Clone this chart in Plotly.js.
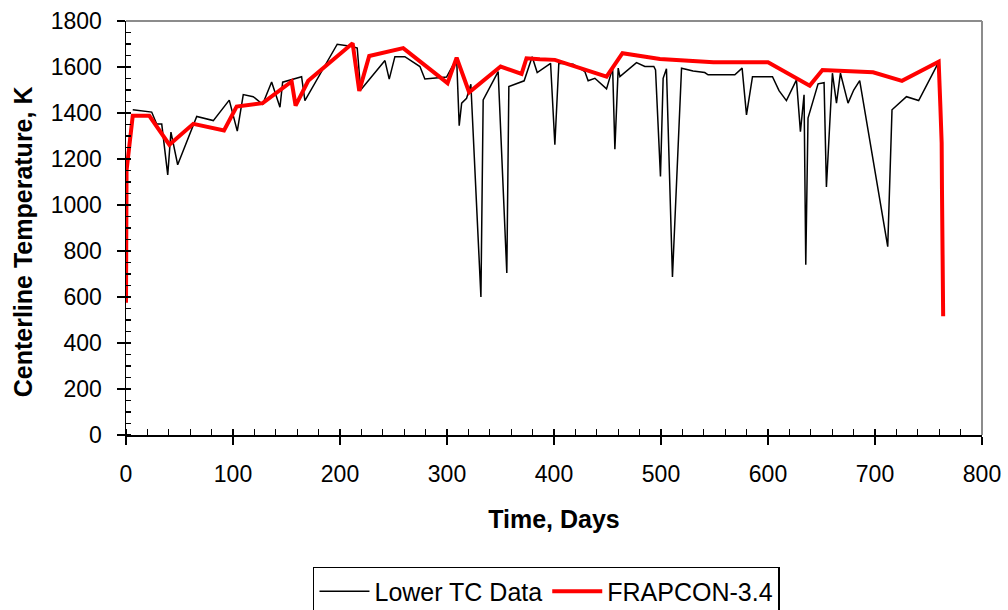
<!DOCTYPE html>
<html>
<head>
<meta charset="utf-8">
<script src="https://cdn.plot.ly/plotly-3.0.1.min.js"></script>
<style>html,body{margin:0;padding:0;background:#fff;}#chart{width:1008px;height:610px;}</style>
</head>
<body>
<div id="chart"></div>
<script>
// Lower TC Data (measured)
const lowerDays = [6.3,24.0,28.7,33.4,39.0,42.0,48.3,66.1,81.6,96.5,104.0,109.6,118.9,127.7,136.1,143.9,146.4,164.1,167.2,197.4,211.4,216.1,219.3,242.0,246.0,251.3,260.6,274.7,279.3,299.6,309.0,311.4,313.7,318.3,322.3,331.7,333.8,347.8,355.9,357.8,372.1,379.6,384.3,396.8,400.8,404.5,417.9,428.8,431.9,438.2,449.1,454.8,456.9,460.0,461.6,477.1,484.9,493.3,494.9,499.5,502.0,505.1,510.7,519.2,530.0,537.8,540.9,544.0,569.0,575.8,579.9,585.5,604.2,610.3,617.2,626.6,630.3,633.7,635.3,637.4,646.8,652.4,654.6,660.2,664.0,667.7,674.8,680.1,685.7,711.9,715.9,729.4,740.8,758.9];
const lowerTemps = [1414,1404,1352,1352,1131,1317,1175,1385,1367,1456,1321,1480,1471,1438,1535,1425,1534,1558,1454,1699,1689,1682,1500,1628,1547,1645,1645,1602,1548,1556,1638,1345,1443,1464,1525,600,1457,1580,704,1515,1540,1645,1576,1616,1262,1616,1612,1580,1540,1551,1505,1595,1243,1595,1558,1619,1602,1602,1587,1124,1551,1592,687,1595,1583,1580,1576,1566,1566,1595,1392,1558,1558,1497,1454,1544,1319,1479,740,1378,1527,1532,1078,1573,1443,1573,1443,1500,1541,819,1414,1471,1454,1616];

// FRAPCON-3.4 (calculated)
const frapDays = [0,0.5,6.3,21.8,40.5,62.9,91.6,103.4,127.7,154.8,158.5,170.3,211.8,218.0,227.3,259.1,300.5,309.0,320.7,350.1,369.7,374.3,386.8,400.8,449.1,464.0,499,549,600,639.0,650.9,698.2,725.2,759.5,761.1,762.3,762.6,763.5,763.7];
const frapTemps = [575,1150,1388,1388,1262,1353,1324,1428,1443,1537,1432,1540,1703,1496,1648,1682,1530,1641,1490,1602,1570,1638,1634,1631,1558,1660,1635,1621,1621,1519,1587,1577,1540,1623,1428,1269,1066,762,516];

const xTickVals = [0,100,200,300,400,500,600,700,800];
const yTickVals = [0,200,400,600,800,1000,1200,1400,1600,1800];

const FONT = 'Liberation Sans, Arial, sans-serif';

const traces = [
  {x: lowerDays, y: lowerTemps, type: 'scatter', mode: 'lines', name: 'Lower TC Data',
   line: {color: '#000000', width: 1.5}},
  {x: frapDays, y: frapTemps, type: 'scatter', mode: 'lines', name: 'FRAPCON-3.4',
   line: {color: '#ff0000', width: 4}}
];

const layout = {
  width: 1008, height: 610,
  margin: {l: 126, r: 26, t: 21, b: 175, pad: 0, autoexpand: false},
  paper_bgcolor: '#ffffff', plot_bgcolor: '#ffffff',
  font: {family: FONT, size: 23, color: '#000'},
  showlegend: true,
  legend: {
    orientation: 'h', xref: 'container', yref: 'container',
    x: 0.3105, xanchor: 'left', y: 0.0705, yanchor: 'top',
    bordercolor: '#000', borderwidth: 1.5, bgcolor: '#fff', itemwidth: 50,
    font: {family: FONT, size: 25, color: '#000'}, traceorder: 'normal'
  },
  xaxis: {
    range: [0, 800], tickvals: xTickVals, ticktext: xTickVals.map(String),
    showgrid: false, zeroline: false, showline: true, linecolor: '#000', linewidth: 1.5,
    ticks: 'outside', ticklen: 8, tickwidth: 1.2, tickcolor: '#000',
    minor: {dtick: 20, ticks: 'inside', ticklen: 6, tickwidth: 1.2, tickcolor: '#000', showgrid: false},
    tickfont: {family: FONT, size: 23, color: '#000'}, ticklabelstandoff: 10,
    title: {text: 'Time, Days', font: {family: FONT, size: 25, color: '#000', weight: 'bold'}, standoff: 24},
    fixedrange: true
  },
  yaxis: {
    range: [0, 1800], tickvals: yTickVals, ticktext: yTickVals.map(String),
    showgrid: false, zeroline: false, showline: true, linecolor: '#000', linewidth: 1.5,
    ticks: 'outside', ticklen: 8, tickwidth: 1.2, tickcolor: '#000',
    minor: {dtick: 50, ticks: 'inside', ticklen: 5, tickwidth: 1.2, tickcolor: '#000', showgrid: false},
    tickfont: {family: FONT, size: 23, color: '#000'}, ticklabelstandoff: 10,
    fixedrange: true
  },
  annotations: [{
    text: '<b>Centerline Temperature, K</b>', xref: 'paper', yref: 'paper',
    x: -0.1203, y: 0.4656, xanchor: 'center', yanchor: 'middle', textangle: -90,
    showarrow: false, font: {family: FONT, size: 25, color: '#000'}
  }],
  shapes: [
    {type: 'line', xref: 'paper', yref: 'paper', x0: 0, x1: 1, y0: 1, y1: 1, line: {color: '#8c8c8c', width: 2}},
    {type: 'line', xref: 'paper', yref: 'paper', x0: 1, x1: 1, y0: 0, y1: 1, line: {color: '#8c8c8c', width: 2}}
  ]
};

Plotly.newPlot('chart', traces, layout, {displayModeBar: false, staticPlot: true});
</script>
</body>
</html>
